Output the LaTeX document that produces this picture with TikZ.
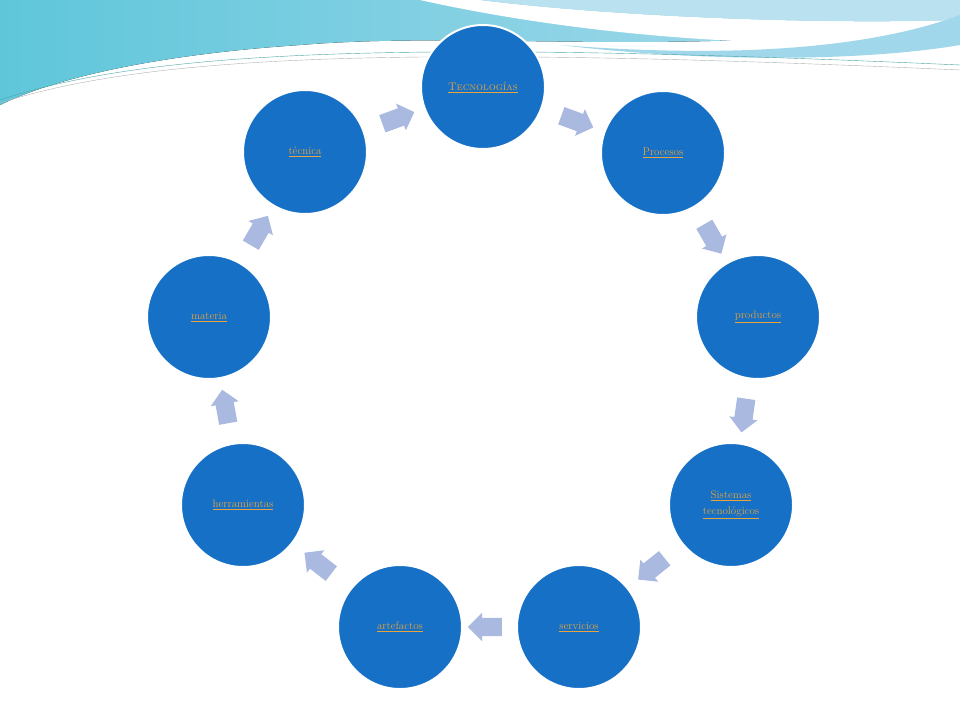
\documentclass[tikz,border=0pt]{standalone}
\usepackage{tikz}
\usetikzlibrary{shapes.arrows,calc}
\definecolor{discblue}{HTML}{1570C6}
\definecolor{linkorange}{HTML}{E8A33A}
\definecolor{arrowblue}{HTML}{A9B9E0}
\definecolor{waveA}{HTML}{5FC6DA}
\definecolor{waveB}{HTML}{8ACDE6}
\tikzset{
  disc/.style={circle,fill=discblue,draw=white,line width=2pt,minimum size=124pt,inner sep=0pt,
    font=\fontsize{11}{14}\selectfont,text=linkorange,align=center},
  arrowbox/.style={single arrow,fill=arrowblue,minimum height=34pt,inner xsep=0pt,inner ysep=9pt,
    single arrow head extend=5pt,single arrow head indent=0pt}
}
\newcommand{\lnk}[1]{\underline{#1}}
\begin{document}
\begin{tikzpicture}[x=1pt,y=-1pt]
\useasboundingbox (0,0) rectangle (960,720);
\fill[white] (0,0) rectangle (960,720);
% top waves
\fill[left color=waveA,right color=waveB!70!white] (0,0) -- (960,0) -- (960,20)
  .. controls (700,60) and (480,30) .. (300,45) .. controls (150,55) and (50,80) .. (0,105) -- cycle;
\fill[white] (420,0) .. controls (600,40) and (800,50) .. (960,40) -- (960,20)
  .. controls (800,25) and (600,15) .. (480,0) -- cycle;
\fill[waveB!60!white] (480,0) .. controls (600,15) and (800,25) .. (960,20) -- (960,0) -- cycle;
\fill[waveB!80!white] (560,45) .. controls (750,60) and (880,45) .. (960,15) -- (960,45)
  .. controls (860,62) and (700,62) .. (560,45) -- cycle;
\draw[teal!70,thin] (0,100) .. controls (150,50) and (400,40) .. (960,65);
\draw[gray!60,thin] (0,103) .. controls (150,55) and (400,45) .. (960,70);
% discs
\node[disc] (tec) at (483,87) {\lnk{\textsc{Tecnologías}}};
\node[disc] (proc) at (663,153) {\lnk{Procesos}};
\node[disc] (prod) at (758,317) {\lnk{productos}};
\node[disc] (sist) at (731,505) {\lnk{Sistemas}\\[2pt]\lnk{tecnológicos}};
\node[disc] (serv) at (579,627) {\lnk{servicios}};
\node[disc] (arte) at (400,627) {\lnk{artefactos}};
\node[disc] (herr) at (243,505) {\lnk{herramientas}};
\node[disc] (mat) at (209,317) {\lnk{materia}};
\node[disc] (tecn) at (305,152) {\lnk{técnica}};
% arrows
\foreach \a/\b in {tecn/tec,tec/proc,proc/prod,prod/sist,sist/serv,serv/arte,arte/herr,herr/mat,mat/tecn}
  \path let \p1=($(\b)-(\a)$), \n1={atan2(\y1,\x1)} in
    node[arrowbox,rotate=\n1] at ($(\a)!0.5!(\b)$) {};
\end{tikzpicture}
\end{document}
